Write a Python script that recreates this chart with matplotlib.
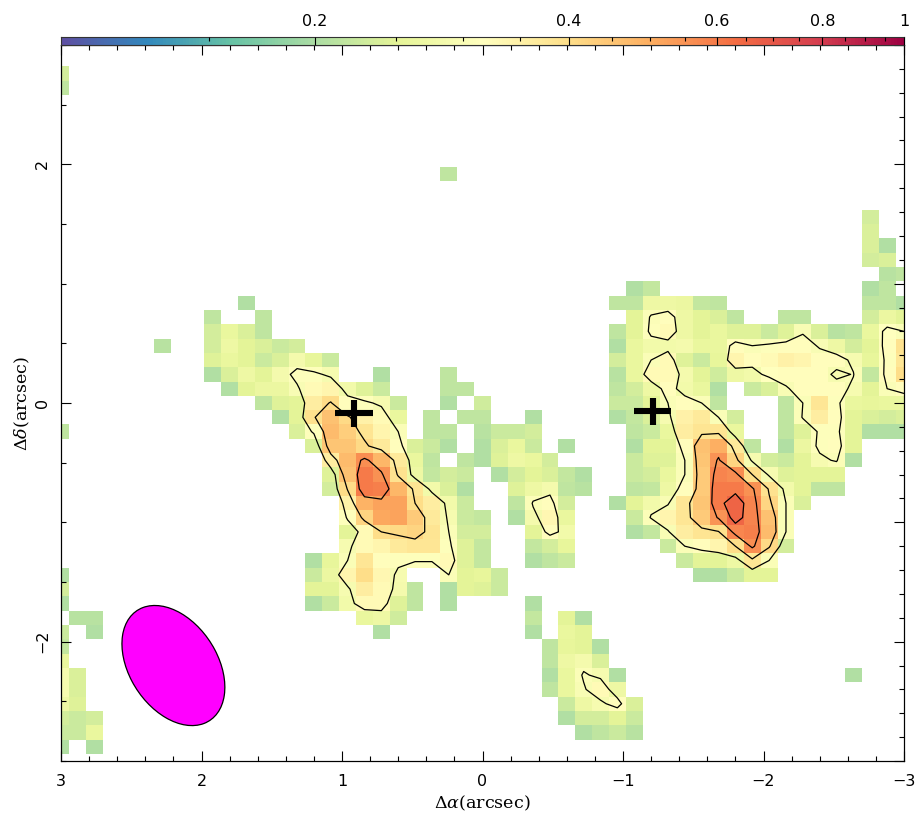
import numpy as np
import matplotlib
matplotlib.use('Agg')
import matplotlib.pyplot as plt
from matplotlib.colors import LogNorm
from matplotlib.patches import Ellipse
from matplotlib.ticker import FixedLocator, MultipleLocator, NullFormatter

# each row is {first column: [values]}, row 0 is the top of the map (+3"), column 0 the left (+3")
row_02 = {0: [.235]}
row_03 = {0: [.215]}
row_09 = {23: [.215]}
row_12 = {48: [.235]}
row_13 = {48: [.24]}
row_14 = {48: [.24, .205]}
row_15 = {48: [.235, .24]}
row_16 = {49: [.21, .215]}
row_17 = {34: [.205, .22], 48: [.205, .215]}
row_18 = {11: [.205], 33: [.215, .215, .27, .27, .265, .22, .215], 48: [.215, .215, .205]}
row_19 = {9: [.215], 12: [.215], 34: [.25, .305, .32, .27, .25, .24, .215], 43: [.215, .215], 48: [.235, .265, .25]}
row_20 = {9: [.235, .26, .24, .215],
          33: [.215, .25, .31, .33, .27, .25, .26, .245, .245, .225, .245, .295, .24, .21, .215, .26, .315, .30]}
row_21 = {6: [.21], 9: [.235, .27, .25, .24, .225, .235],
          33: [.205, .26, .28, .28, .285, .26, .26, .32, .30, .31, .32, .32, .295, .27, .235, .25, .32, .39]}
row_22 = {9: [.245, .26, .25, .225, .24, .285, .255, .225],
          33: [.235, .26, .30, .33, .245, .225, .255, .34, .32, .33, .35, .34, .32, .32, .29, .255, .31, .38]}
row_23 = {9: [.205, .24, .27, .25, .285, .31, .31, .29], 19: [.205], 23: [.215],
          33: [.21, .26, .33, .33, .285, .25, .23, .27, .28, .315, .32, .32, .32, .29, .302, .22, .32, .40]}
row_24 = {10: [.205, .25, .265, .265, .295, .33, .34, .28, .245, .225], 23: [.215, .215],
          33: [.215, .235, .27, .32, .28, .26, .205], 41: [.225, .24, .295, .32, .32, .32, .29, .25, .30, .32]}
row_25 = {12: [.215, .245, .25, .36, .405, .32, .31, .29, .225], 23: [.205], 25: [.23],
          33: [.225, .225, .25, .30, .32, .30, .215], 43: [.215, .30, .38, .31, .26, .255, .26, .26]}
row_26 = {13: [.205, .25, .395, .46, .41, .35, .33, .26], 22: [.215], 24: [.215, .215], 28: [.205],
          33: [.205, .22, .24, .29, .35, .37, .30, .235], 43: [.215, .305, .36, .32, .25, .24, .235, .24]}
row_27 = {0: [.215], 14: [.24, .31, .47, .43, .385, .34, .30], 22: [.215, .215], 25: [.21, .225, .225, .235],
          34: [.215, .225, .26, .36, .385, .385, .26], 43: [.215, .245, .31, .31, .25, .205, .205, .205]}
row_28 = {15: [.24, .45, .45, .41, .37, .32, .24, .225, .205], 25: [.205, .24, .26, .225], 30: [.205],
          34: [.205, .25, .25, .32, .46, .50, .37, .215], 43: [.205, .265, .31, .32, .25]}
row_29 = {16: [.36, .47, .56, .48, .37, .26, .215], 24: [.215, .205, .245, .27, .26, .235],
          34: [.225, .245, .245, .30, .45, .55, .42, .29, .235, .225, .25, .29, .305, .205]}
row_30 = {16: [.245, .46, .60, .555, .39, .27, .22, .235, .225], 26: [.205, .235, .25, .24, .22, .205],
          34: [.225, .235, .26, .30, .44, .58, .565, .40, .29, .245, .25, .25, .25]}
row_31 = {16: [.235, .405, .60, .59, .48, .385, .28, .24, .205], 27: [.245, .27, .285, .215, .21],
          34: [.215, .22, .27, .32, .44, .60, .60, .555, .39, .28, .25, .215, .215]}
row_32 = {17: [.35, .49, .52, .52, .40, .36, .28, .225], 27: [.215, .305, .32, .235],
          33: [.205, .25, .28, .295, .38, .45, .60, .66, .58, .415, .30, .24]}
row_33 = {17: [.31, .42, .51, .52, .44, .37, .29, .225, .22], 27: [.205, .285, .335, .26],
          34: [.225, .305, .34, .38, .44, .55, .65, .58, .46, .30]}
row_34 = {17: [.25, .33, .40, .41, .42, .385, .30, .235, .235], 28: [.25, .32, .28],
          34: [.205, .22, .295, .36, .385, .395, .575, .59, .47, .30]}
row_35 = {17: [.29, .33, .34, .37, .38, .38, .31, .245, .22], 28: [.22, .235, .255],
          36: [.225, .30, .32, .34, .40, .56, .41, .235]}
row_36 = {15: [.205, .255, .30, .38, .32, .31, .31, .31, .33, .245, .22], 28: [.205, .215, .225],
          37: [.225, .25, .25, .27, .38, .30]}
row_37 = {0: [.205], 15: [.225, .265, .34, .40, .335, .29], 23: [.30, .25, .255, .225], 38: [.205, .205, .225, .25, .25]}
row_38 = {0: [.235], 15: [.25, .25, .29, .36, .33, .285, .215], 23: [.205, .25, .245, .225]}
row_39 = {0: [.205], 15: [.205, .225, .28, .33, .33, .245, .215], 23: [.205], 28: [.205]}
row_40 = {1: [.21, .21], 18: [.26, .27, .23], 28: [.22], 30: [.25, .205]}
row_41 = {0: [.225], 2: [.205], 19: [.205], 28: [.205], 30: [.26, .25]}
row_42 = {0: [.22], 29: [.215, .255, .25, .205]}
row_43 = {0: [.26], 29: [.215, .27, .285, .24]}
row_44 = {0: [.29, .24], 29: [.205, .26, .305, .29, .205], 47: [.205]}
row_45 = {0: [.29, .24], 29: [.215, .26, .295, .33, .27]}
row_46 = {0: [.27, .245], 30: [.225, .27, .29, .32, .24]}
row_47 = {0: [.235, .225, .235], 30: [.205, .235, .235, .25, .225]}
row_48 = {0: [.225, .225, .26], 31: [.205, .215, .225, .21]}
row_49 = {0: [.205], 2: [.205]}

contour_levels = [.30, .40, .54, .62]
blank_below = .2
cbar_major = [.2, .4, .6, .8, 1]
cbar_labels = ['0.2', '0.4', '0.6', '0.8', '1']
cbar_minor = [.15, .25, .3, .35, .45, .5, .55, .65, .7, .75, .85, .9, .95]
cross_x = [.915, -1.21]
cross_y = [-.084, -.07]
beam_center = (2.2, -2.2)
beam_major, beam_minor, beam_angle = 1.064, .646, 65.9

plt.rcParams['font.family'] = 'DejaVu Sans'
plt.rcParams['mathtext.fontset'] = 'dejavuserif'

# map grid, cell centres every 0.12"
offsets = 3 - .12 * np.arange(51)
grid = np.full((51, 51), .18)
for name, cells in list(globals().items()):
    if name.startswith('row_'):
        for col, vals in cells.items():
            grid[int(name[4:]), col:col + len(vals)] = vals

W, H = 915, 817
fig = plt.figure(figsize=(W / 100, H / 100), dpi=100)
ax = fig.add_axes([61 / W, 1 - 761 / H, 843 / W, 716 / H])
norm = LogNorm(.1, 1)
ax.pcolormesh(offsets, offsets, np.ma.masked_less(grid, blank_below), cmap='Spectral_r', norm=norm, shading='nearest')
ax.contour(offsets, offsets, grid, levels=contour_levels, colors='black', linewidths=.9)

ax.add_patch(Ellipse(beam_center, beam_major, beam_minor, angle=beam_angle, fc='#ff00ff', ec='black', lw=.9))
for x0, y0 in zip(cross_x, cross_y):
    ax.plot([x0 - .135, x0 + .135], [y0, y0], color='black', lw=4.4, solid_capstyle='butt')
    ax.plot([x0, x0], [y0 - .113, y0 + .113], color='black', lw=4.4, solid_capstyle='butt')

ax.set_xlim(3, -3)
ax.set_ylim(-3, 3)
ax.xaxis.set_major_locator(MultipleLocator(1))
ax.xaxis.set_minor_locator(MultipleLocator(.2))
ax.yaxis.set_major_locator(MultipleLocator(2))
ax.yaxis.set_minor_locator(MultipleLocator(.5))
ax.tick_params(axis='x', which='both', direction='in', top=True, width=.8, labelsize=11.5, pad=9.5)
ax.tick_params(axis='y', which='both', direction='in', width=.8, labelsize=11.5, pad=8)
ax.tick_params(which='major', length=7.5)
ax.tick_params(which='minor', length=3.6)
for lab in ax.get_yticklabels():
    lab.set_rotation(90)
    lab.set_va('center')
ax.set_axisbelow(False)
ax.set_xlabel(r'$\Delta\alpha$(arcsec)', family='DejaVu Serif', fontsize=12.6, labelpad=3)
ax.set_ylabel(r'$\Delta\delta$(arcsec)', family='DejaVu Serif', fontsize=12.6, labelpad=2)

# right side has its own finer ticks
right = ax.twinx()
right.set_ylim(-3, 3)
right.yaxis.set_major_locator(MultipleLocator(1))
right.yaxis.set_minor_locator(MultipleLocator(.2))
right.yaxis.set_major_formatter(NullFormatter())
right.tick_params(which='both', direction='in', width=.8)
right.tick_params(which='major', length=7.5)
right.tick_params(which='minor', length=3.6)

# colour bar on top
cax = fig.add_axes([61 / W, 1 - 45 / H, 843 / W, 8 / H])
edges = np.logspace(-1, 0, 257)
cax.pcolormesh(edges, [0, 1], np.sqrt(edges[:-1] * edges[1:])[None, :], cmap='Spectral_r', norm=norm)
cax.set_xscale('log')
cax.set_xlim(.1, 1)
cax.set_yticks([])
cax.xaxis.set_major_locator(FixedLocator(cbar_major))
cax.xaxis.set_major_formatter(plt.FixedFormatter(cbar_labels))
cax.xaxis.set_minor_locator(FixedLocator(cbar_minor))
cax.xaxis.set_minor_formatter(NullFormatter())
cax.xaxis.set_ticks_position('top')
cax.tick_params(which='major', direction='in', length=5.8, width=.8, labelsize=11.5, pad=6)
cax.tick_params(which='minor', direction='in', length=2.8, width=.8)
cax.set_axisbelow(False)
for sp in cax.spines.values():
    sp.set_linewidth(.8)
    sp.set_color('#333333')

fig.savefig('out.png', dpi=100)
